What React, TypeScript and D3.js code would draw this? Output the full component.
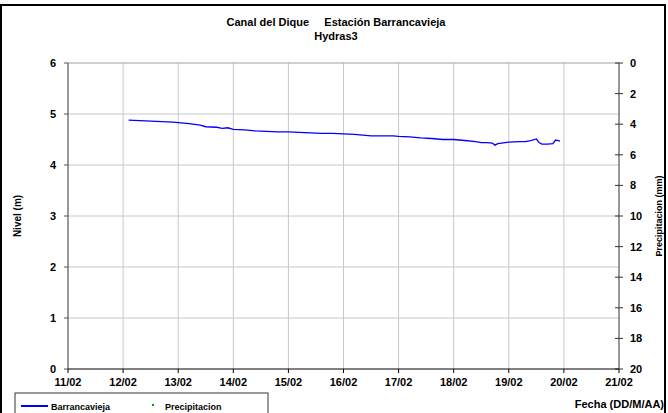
import React from "react";
import * as d3 from "d3";

const xTickLabels = ["11/02","12/02","13/02","14/02","15/02","16/02","17/02","18/02","19/02","20/02","21/02"];
const yLeftTicks = [0,1,2,3,4,5,6];
const yRightTicks = [0,2,4,6,8,10,12,14,16,18,20];
// day-of-month (fractional) and level (m)
const levelDays = [12.1,12.3,12.5,12.7,12.9,13.0,13.2,13.4,13.5,13.7,13.8,13.9,14.0,14.2,14.4,14.6,14.8,15.0,15.2,15.4,15.6,15.8,16.0,16.2,16.4,16.5,16.7,16.9,17.0,17.2,17.4,17.6,17.8,18.0,18.2,18.4,18.5,18.6,18.7,18.75,18.8,19.0,19.2,19.3,19.4,19.5,19.55,19.6,19.7,19.8,19.85,19.9,19.93];
const levelValues = [4.88,4.87,4.86,4.85,4.84,4.83,4.81,4.78,4.75,4.74,4.72,4.73,4.70,4.69,4.67,4.66,4.65,4.65,4.64,4.63,4.62,4.62,4.61,4.60,4.58,4.57,4.57,4.57,4.56,4.55,4.53,4.52,4.50,4.50,4.48,4.46,4.44,4.44,4.43,4.39,4.42,4.45,4.46,4.46,4.48,4.51,4.44,4.41,4.41,4.42,4.49,4.48,4.47];

export default function App() {
  const W = 668, H = 413;
  const left = 68, right = 619, top = 63, bottom = 369;
  const x = d3.scaleLinear().domain([11, 21]).range([left, right]);
  const y = d3.scaleLinear().domain([0, 6]).range([bottom, top]);
  const yR = d3.scaleLinear().domain([0, 20]).range([top, bottom]);
  const line = d3.line<number>().x((_, i) => x(levelDays[i])).y((d) => y(d));
  const font = "'Liberation Sans', Arial, sans-serif";
  return (
    <svg width={W} height={H} style={{ position: "absolute", left: 0, top: 0 }} fontFamily={font}>
      <rect x={0} y={0} width={W} height={H} fill="#fff" />
      <rect x={1} y={5} width={664} height={420} fill="none" stroke="#000" strokeWidth={2} />
      <text x={336} y={26} textAnchor="middle" fontSize={11} fontWeight="bold" xmlSpace="preserve">{"Canal del Dique     Estación Barrancavieja"}</text>
      <text x={336} y={40} textAnchor="middle" fontSize={11} fontWeight="bold">Hydras3</text>
      {/* gridlines */}
      {xTickLabels.map((_, i) => i > 0 && i < 10 ? (
        <line key={"gx" + i} x1={x(11 + i)} x2={x(11 + i)} y1={top} y2={bottom} stroke="#c8c8c8" strokeWidth={1} />
      ) : null)}
      {yLeftTicks.filter(t => t > 0).map(t => (
        <line key={"gy" + t} x1={left} x2={right} y1={y(t)} y2={y(t)} stroke={t === 6 ? "#a0a0a0" : "#c8c8c8"} strokeWidth={1} />
      ))}
      {/* level line */}
      <path d={line(levelValues) || ""} fill="none" stroke="#0000ff" strokeWidth={1.3} />
      {/* left axis */}
      <line x1={left} x2={left} y1={top} y2={bottom} stroke="#555" strokeWidth={1.2} />
      {yLeftTicks.map(t => (
        <g key={"yl" + t}>
          <line x1={left - 4} x2={left} y1={y(t)} y2={y(t)} stroke="#555" />
          <text x={left - 12} y={y(t) + 4} textAnchor="end" fontSize={11} fontWeight="bold">{t}</text>
        </g>
      ))}
      {/* right axis */}
      <line x1={right} x2={right} y1={top} y2={bottom} stroke="#333" strokeWidth={1} />
      {yRightTicks.map(t => (
        <g key={"yr" + t}>
          <line x1={right - 4} x2={right + 4} y1={yR(t)} y2={yR(t)} stroke="#333" />
          <text x={right + 11} y={yR(t) + 4} textAnchor="start" fontSize={11} fontWeight="bold">{t}</text>
        </g>
      ))}
      {/* bottom axis */}
      <line x1={left} x2={right} y1={bottom} y2={bottom} stroke="#000" strokeWidth={1} />
      {xTickLabels.map((lab, i) => (
        <g key={"xt" + i}>
          <line x1={x(11 + i)} x2={x(11 + i)} y1={bottom} y2={bottom + 4} stroke="#000" />
          <text x={x(11 + i)} y={bottom + 17} textAnchor="middle" fontSize={11} fontWeight="bold">{lab}</text>
        </g>
      ))}
      <text transform={`translate(21,${(top + bottom) / 2}) rotate(-90)`} textAnchor="middle" fontSize={10} fontWeight="bold">Nivel (m)</text>
      <text transform={`translate(662,${(top + bottom) / 2}) rotate(-90)`} textAnchor="middle" fontSize={9} fontWeight="bold">Precipitacion (mm)</text>
      <text x={664} y={408} textAnchor="end" fontSize={11} fontWeight="bold">Fecha (DD/M/AA)</text>
      {/* legend */}
      <rect x={15} y={393} width={253} height={30} fill="#fff" stroke="#000" strokeWidth={0.8} />
      <line x1={21} x2={48} y1={406} y2={406} stroke="#0000ff" strokeWidth={2} />
      <text x={51} y={410} fontSize={9} fontWeight="bold">Barrancavieja</text>
      <rect x={152} y={404} width={2} height={2} fill="#00a000" />
      <text x={165} y={410} fontSize={9} fontWeight="bold">Precipitacion</text>
    </svg>
  );
}
